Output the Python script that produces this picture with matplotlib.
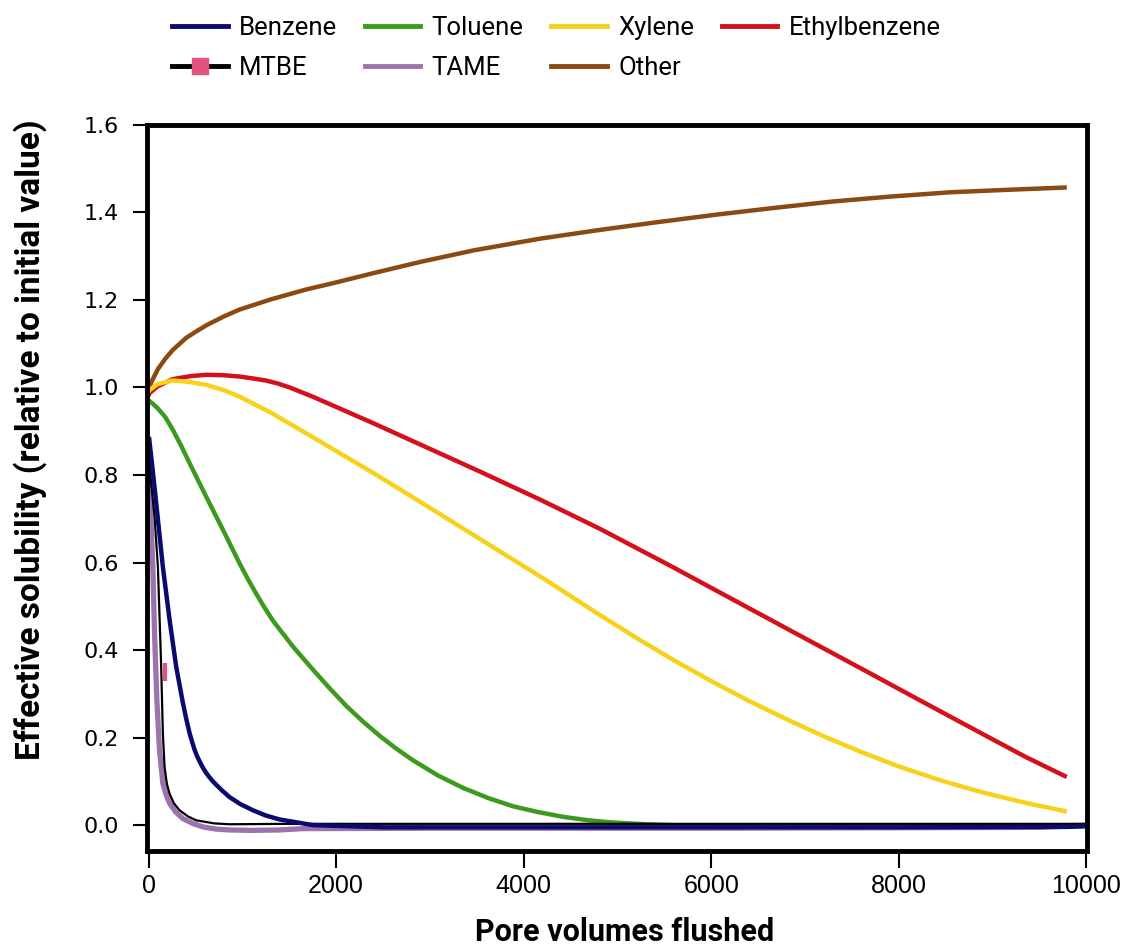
import matplotlib
matplotlib.use("Agg")
import matplotlib.pyplot as plt
from matplotlib.lines import Line2D

# Values
other_x = [0, 30, 100, 180, 260, 400, 500, 616, 800, 971, 1300, 1683, 2000, 2393, 2900, 3461, 4173, 4813, 5400, 6058, 6700, 7300, 7900, 8548, 9200, 9790]
other_y = [0.995, 1.012, 1.042, 1.066, 1.086, 1.113, 1.127, 1.142, 1.162, 1.178, 1.201, 1.224, 1.240, 1.261, 1.287, 1.313, 1.340, 1.360, 1.377, 1.395, 1.411, 1.425, 1.436, 1.446, 1.452, 1.457]

ethyl_x = [0, 10, 100, 258, 450, 616, 800, 971, 1100, 1250, 1380, 1505, 1750, 2038, 2400, 2750, 3100, 3532, 4173, 4813, 5560, 6200, 6841, 7588, 8200, 8869, 9350, 9790]
ethyl_y = [0.98, 0.987, 1.003, 1.019, 1.026, 1.029, 1.028, 1.025, 1.021, 1.016, 1.009, 1.000, 0.979, 0.952, 0.918, 0.884, 0.85, 0.808, 0.744, 0.677, 0.593, 0.519, 0.445, 0.359, 0.288, 0.211, 0.156, 0.11]

xylene_x = [0, 10, 100, 260, 420, 616, 800, 971, 1300, 1683, 2000, 2394, 2750, 3105, 3532, 4200, 4813, 5200, 5600, 6000, 6400, 6841, 7200, 7588, 8000, 8450, 8869, 9350, 9790]
xylene_y = [0.99, 0.994, 1.008, 1.016, 1.013, 1.006, 0.994, 0.979, 0.943, 0.895, 0.855, 0.805, 0.758, 0.711, 0.654, 0.565, 0.48, 0.428, 0.377, 0.329, 0.284, 0.238, 0.203, 0.168, 0.134, 0.102, 0.076, 0.051, 0.031]

toluene_x = [0, 10, 50, 100, 180, 260, 350, 438, 616, 800, 971, 1060, 1150, 1240, 1327, 1540, 1754, 1930, 2110, 2290, 2465, 2640, 2821, 3090, 3355, 3620, 3888, 4150, 4421, 4690, 4955, 5300, 5700, 6500, 8000, 10000]
toluene_y = [0.968, 0.969, 0.962, 0.952, 0.932, 0.903, 0.866, 0.827, 0.750, 0.672, 0.598, 0.562, 0.528, 0.496, 0.467, 0.408, 0.355, 0.313, 0.272, 0.236, 0.204, 0.175, 0.148, 0.113, 0.085, 0.062, 0.043, 0.030, 0.019, 0.011, 0.006, 0.002, -0.001, -0.003, -0.003, -0.003]

tame_x = [0, 10, 46, 64, 89, 117, 153, 190, 224, 290, 366, 470, 580, 720, 864, 1100, 1398, 1640, 3000, 6000, 9500, 10000]
tame_y = [0.86, 0.78, 0.59, 0.44, 0.286, 0.171, 0.095, 0.068, 0.05, 0.03, 0.015, 0.004, -0.004, -0.009, -0.011, -0.012, -0.011, -0.008, -0.007, -0.007, -0.005, 0.0]

mtbe_x = [0, 10, 64, 100, 120, 135, 153, 171, 195, 224, 270, 331, 420, 509, 700, 864, 1500, 5000, 10000]
mtbe_y = [0.86, 0.82, 0.705, 0.59, 0.46, 0.362, 0.21, 0.133, 0.095, 0.072, 0.05, 0.034, 0.02, 0.011, 0.004, 0.002, 0.003, 0.003, 0.003]
mtbe_mark_x = [175]
mtbe_mark_y = [0.35]

benzene_x = [5, 40, 80, 153, 224, 295, 366, 400, 438, 465, 490, 515, 544, 570, 600, 640, 686, 770, 864, 980, 1113, 1250, 1398, 1754, 2500, 5000, 8000, 9800, 10000]
benzene_y = [0.887, 0.82, 0.74, 0.59, 0.47, 0.362, 0.28, 0.245, 0.21, 0.19, 0.173, 0.159, 0.146, 0.135, 0.124, 0.112, 0.10, 0.082, 0.064, 0.048, 0.034, 0.022, 0.013, 0.0, -0.005, -0.005, -0.005, -0.004, -0.002]

x_ticks = [0, 2000, 4000, 6000, 8000, 10000]
y_ticks = [0.0, 0.2, 0.4, 0.6, 0.8, 1.0, 1.2, 1.4, 1.6]

c_benz = "#0b0a6e"
c_tol = "#3c9a1f"
c_xyl = "#f8d11a"
c_eth = "#d4101a"
c_oth = "#8b4a12"
c_tame = "#9b74ae"
c_pink = "#e2547e"

cond = ["Roboto", "DejaVu Sans"]

fig = plt.figure(figsize=(11.28, 9.46), dpi=100)
ax = fig.add_axes([0.130, 0.100, 0.834, 0.768])

ax.plot(other_x, other_y, color=c_oth, lw=3.2, solid_capstyle="butt")
ax.plot(ethyl_x, ethyl_y, color=c_eth, lw=3.2, solid_capstyle="butt")
ax.plot(xylene_x, xylene_y, color=c_xyl, lw=3.2, solid_capstyle="butt")
ax.plot(toluene_x, toluene_y, color=c_tol, lw=3.2, solid_capstyle="butt")
ax.plot(tame_x, tame_y, color=c_tame, lw=3.8, solid_capstyle="butt")
ax.plot(mtbe_x, mtbe_y, color="black", lw=1.6)
ax.plot(mtbe_mark_x, mtbe_mark_y, ls="none", marker="|", ms=13, mew=3, color=c_pink)
ax.plot(benzene_x, benzene_y, color=c_benz, lw=3.2, solid_capstyle="butt")

ax.set_xlim(-20, 10010)
ax.set_ylim(-0.06, 1.6)
ax.set_xticks(x_ticks)
ax.set_yticks(y_ticks)
ax.set_yticklabels([f"{v:.1f}" for v in y_ticks], fontsize=16, family="DejaVu Sans")
ax.set_xticklabels([str(v) for v in x_ticks], fontsize=18, family=["Liberation Sans", "DejaVu Sans"])

for s in ax.spines.values():
    s.set_linewidth(3.5)
ax.tick_params(axis="y", length=10, width=1.5, pad=10)
ax.tick_params(axis="x", length=12, width=1.5, pad=4)

ax.set_xlabel("Pore volumes flushed", fontsize=22, fontweight="bold", family=cond,
              fontstretch="condensed")
ax.xaxis.set_label_coords(0.5085, -0.090)
ax.set_ylabel("Effective solubility (relative to initial value)", fontsize=24, fontweight="bold",
              family=cond, fontstretch="condensed")
ax.yaxis.set_label_coords(-0.106, 0.566)

handles = [
    Line2D([], [], color=c_benz, lw=3.5),
    Line2D([], [], color="black", lw=3.5, marker="s", ms=11, mfc=c_pink, mec=c_pink),
    Line2D([], [], color=c_tol, lw=3.5),
    Line2D([], [], color=c_tame, lw=3.5),
    Line2D([], [], color=c_xyl, lw=3.5),
    Line2D([], [], color=c_oth, lw=3.5),
    Line2D([], [], color=c_eth, lw=3.5),
]
labels = ["Benzene", "MTBE", "Toluene", "TAME", "Xylene", "Other", "Ethylbenzene"]
fig.legend(handles, labels, ncol=4, loc="upper left", bbox_to_anchor=(0.1525, 0.983),
           frameon=False, borderaxespad=0, borderpad=0, handlelength=2.16, handletextpad=0.44,
           columnspacing=1.08, labelspacing=0.62,
           prop={"family": cond, "size": 18.5, "stretch": "condensed"})

fig.savefig("out.png", dpi=100, facecolor="white")
